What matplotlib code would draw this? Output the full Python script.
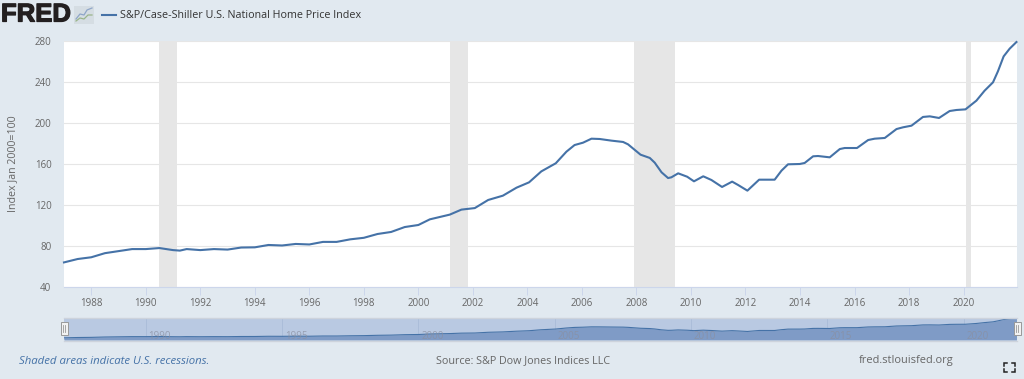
import matplotlib
matplotlib.use('Agg')
import matplotlib.pyplot as plt
import matplotlib.patheffects as pe
from matplotlib.lines import Line2D
from matplotlib.patches import Rectangle

plt.rcParams['font.family'] = ['Open Sans', 'DejaVu Sans']

# valores
anos = [1987, 1987.5, 1988, 1988.5, 1989, 1989.5, 1990, 1990.5, 1991, 1991.25, 1991.5, 1992, 1992.5,
        1993, 1993.5, 1994, 1994.5, 1995, 1995.5, 1996, 1996.5, 1997, 1997.5, 1998, 1998.5, 1999,
        1999.5, 2000, 2000.42, 2001.15, 2001.58, 2002.07, 2002.56, 2003.1, 2003.6, 2004.06, 2004.51,
        2005.04, 2005.43, 2005.73, 2006.04, 2006.35, 2006.65, 2007.08, 2007.51, 2007.69, 2007.94,
        2008.15, 2008.49, 2008.67, 2008.92, 2009.16, 2009.28, 2009.53, 2009.86, 2010.11, 2010.45,
        2010.75, 2011.14, 2011.51, 2011.73, 2012.07, 2012.5, 2012.77, 2013.07, 2013.32, 2013.56,
        2013.99, 2014.17, 2014.48, 2014.66, 2015.09, 2015.46, 2015.64, 2016.09, 2016.5, 2016.74,
        2017.11, 2017.54, 2017.78, 2018.09, 2018.51, 2018.76, 2019.1, 2019.49, 2019.74, 2020.07,
        2020.47, 2020.77, 2021.08, 2021.26, 2021.47, 2021.69, 2021.94]
indice = [64, 67.3, 69, 73, 75, 77, 77, 78, 76, 75.5, 77, 76, 77,
          76.5, 78.5, 78.7, 81, 80.5, 82, 81.5, 84, 84, 86.5, 88, 91.7, 93.7,
          98.5, 100.5, 106, 110.6, 115.5, 117, 124.9, 129.1, 136.9, 142.1, 152.8,
          160.7, 172, 178.5, 180.8, 184.7, 184.4, 182.8, 181.5, 179.2, 173.7,
          169.1, 165.9, 161.3, 151.9, 146.3, 147, 150.9, 147.6, 143.1, 148,
          144.4, 137.6, 142.8, 139.5, 134, 144.7, 144.7, 144.7, 153.5, 159.7,
          160, 161, 167.5, 167.8, 166.5, 174.6, 175.6, 175.6, 183.4, 184.7,
          185.4, 194.1, 195.8, 197.4, 205.9, 206.5, 204.9, 211.7, 212.7, 213.3,
          221.8, 231.5, 239.7, 250.4, 265, 272.5, 279]
recessoes = [(1990.50, 1991.16), (2001.17, 2001.83), (2007.92, 2009.41), (2020.10, 2020.26)]
anos_ticks = list(range(1988, 2021, 2))
y_ticks = [40, 80, 120, 160, 200, 240, 280]
anos_nav = [1990, 1995, 2000, 2005, 2010, 2015, 2020]

LARG, ALT = 1024, 379
FUNDO = '#e1e9f0'
AZUL = '#4572a7'
CINZA = '#666666'
xmin, xmax = 1987, 2021.96


def caixa(x0, y0, x1, y1):
    # converte pixels da imagem para fracao da figura
    return [x0 / LARG, 1 - y1 / ALT, (x1 - x0) / LARG, (y1 - y0) / ALT]


def fx(x):
    return x / LARG


def fy(y):
    return 1 - y / ALT


fig = plt.figure(figsize=(10.24, 3.79), dpi=100, facecolor=FUNDO)

# grafico principal
ax = fig.add_axes(caixa(64, 41, 1017, 287))
for ini, fim in recessoes:
    ax.axvspan(ini, fim, color='#e6e6e6', lw=0, zorder=2)
ax.plot(anos, indice, color=AZUL, lw=1.5, solid_joinstyle='round', zorder=3, clip_on=False)
ax.set_xlim(xmin, xmax)
ax.set_ylim(40, 280)
ax.set_xticks(anos_ticks)
ax.set_yticks(y_ticks)
ax.tick_params(axis='x', length=5.5, width=0.7, color='#ccd6eb', labelsize=7, labelcolor=CINZA, pad=2.5)
ax.tick_params(axis='y', length=0, labelsize=7, labelcolor=CINZA, pad=9)
ax.grid(axis='y', color='#e6e6e6', lw=0.8, zorder=1)
ax.set_axisbelow(True)
for lado in ['top', 'left', 'right']:
    ax.spines[lado].set_visible(False)
ax.spines['bottom'].set_color('#ccd6eb')
ax.spines['bottom'].set_linewidth(0.8)
fig.text(fx(13), fy(164), 'Index Jan 2000=100', rotation=90, ha='center', va='center', fontsize=7.7, color=CINZA)

# navegador embaixo
nav = fig.add_axes(caixa(64, 318, 1017, 340))
nav.set_facecolor('#b9c9e2')
nav.fill_between(anos, indice, 40, color='#7f9bc6', lw=0, zorder=2)
nav.plot(anos, indice, color=AZUL, lw=0.8, zorder=3)
nav.set_xlim(xmin, xmax)
nav.set_ylim(40, 282)
nav.set_xticks([])
nav.set_yticks([])
for a in anos_nav:
    nav.axvline(a, color='#a9bbd8', lw=0.6, zorder=1)
    nav.text(a + 0.1, 46, str(a), fontsize=7, color='#8a8fa0', alpha=0.75, ha='left', va='baseline', zorder=4)
for lado in nav.spines:
    nav.spines[lado].set_visible(False)
fig.add_artist(Line2D([fx(64), fx(1017)], [fy(340.5), fy(340.5)], color='#cdd3dc', lw=1))
fig.add_artist(Line2D([fx(64), fx(1017)], [fy(317.5), fy(317.5)], color='#cdd3dc', lw=1))
for xc in [64, 1017]:
    fig.add_artist(Rectangle((fx(xc - 3.5), fy(335)), 7 / LARG, 13 / ALT, transform=fig.transFigure,
                             facecolor='#f2f2f2', edgecolor='#999999', lw=0.7))
    for d in [-1, 1]:
        fig.add_artist(Line2D([fx(xc + d), fx(xc + d)], [fy(325), fy(332)], color='#999999', lw=0.6))

# cabecalho
logo = fig.text(fx(1), fy(14.5), 'FRED', fontsize=18.5, fontweight='bold', color='#231f20', ha='left', va='center',
                family=['Liberation Sans'])
logo.set_path_effects([pe.withStroke(linewidth=0.9, foreground='#231f20')])
fig.add_artist(Rectangle((fx(74), fy(24)), 20 / LARG, 18 / ALT, transform=fig.transFigure,
                         facecolor='#d5dde3', edgecolor='none'))
fig.add_artist(Line2D([fx(x) for x in [76, 80, 84, 87, 92]], [fy(y) for y in [19, 14, 15, 10, 8]], color='#8fa6c8', lw=0.9))
fig.add_artist(Line2D([fx(x) for x in [76, 80, 84, 88, 92]], [fy(y) for y in [21, 18, 19, 15, 15]], color='#9ab58a', lw=0.9))
fig.add_artist(Line2D([fx(102), fx(116)], [fy(14.5), fy(14.5)], color=AZUL, lw=1.5))
fig.text(fx(120), fy(15), 'S&P/Case-Shiller U.S. National Home Price Index', fontsize=7.75, color='#333333',
         ha='left', va='center')

# rodape
fig.text(fx(19), fy(361), 'Shaded areas indicate U.S. recessions.', fontsize=8.2, style='italic', color=AZUL,
         ha='left', va='center')
fig.text(fx(436), fy(361), 'Source: S&P Dow Jones Indices LLC', fontsize=7.75, color=CINZA, ha='left', va='center')
fig.text(fx(859), fy(361), 'fred.stlouisfed.org', fontsize=7.9, color=CINZA, ha='left', va='center')

# icone de tela cheia
for cx, cy, dx, dy in [(1004, 363, 1, 1), (1015, 363, -1, 1), (1004, 372, 1, -1), (1015, 372, -1, -1)]:
    fig.add_artist(Line2D([fx(cx + 3 * dx), fx(cx), fx(cx)], [fy(cy), fy(cy), fy(cy + 3 * dy)],
                          color='#222222', lw=1.1, solid_joinstyle='miter'))

fig.savefig('out.png', dpi=100, facecolor=FUNDO)
